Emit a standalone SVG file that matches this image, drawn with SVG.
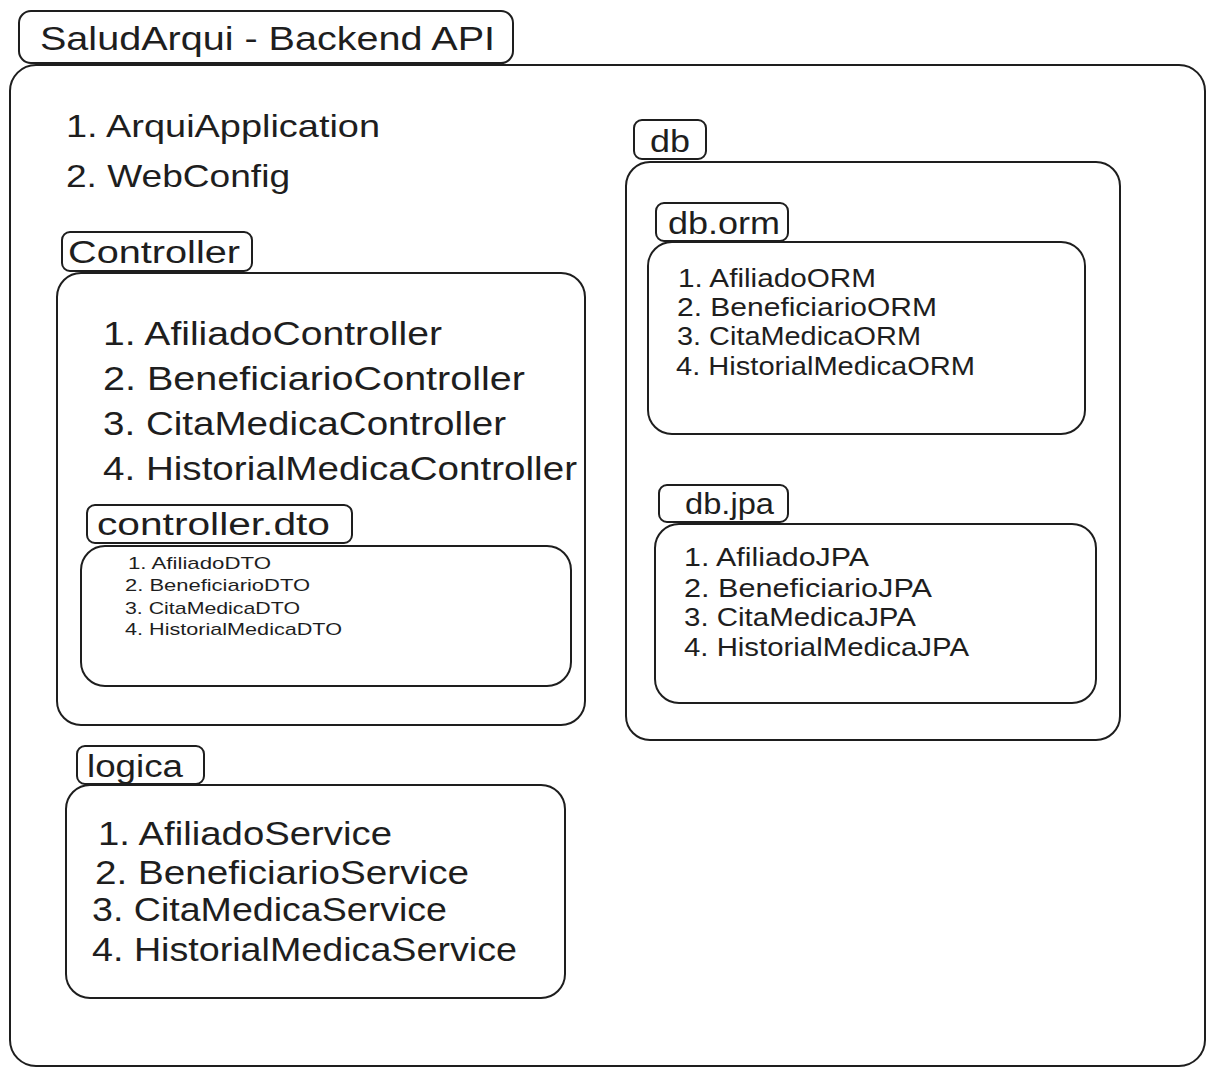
<svg xmlns="http://www.w3.org/2000/svg" width="1215" height="1075" viewBox="0 0 1215 1075">
<style>
.box{fill:none;stroke:#1e1e1e;stroke-width:2;stroke-linejoin:round}
.t{font-family:"Liberation Sans",Arial,sans-serif;fill:#1e1e1e}
</style>
<rect x="0" y="0" width="1215" height="1075" fill="#ffffff"/>
<g id="title">
<rect class="box" x="19" y="11" width="494" height="52" rx="12"/>
<text class="t" x="40" y="50" font-size="34" textLength="455" lengthAdjust="spacingAndGlyphs">SaludArqui - Backend API</text>
</g>
<g id="backend">
<rect class="box" x="10" y="65" width="1195" height="1001" rx="26"/>
<text class="t" x="66" y="137" font-size="32" textLength="314" lengthAdjust="spacingAndGlyphs">1. ArquiApplication</text>
<text class="t" x="66" y="187" font-size="32" textLength="224" lengthAdjust="spacingAndGlyphs">2. WebConfig</text>
</g>
<g id="controller">
<rect class="box" x="62" y="232" width="190" height="39" rx="8"/>
<text class="t" x="68" y="263" font-size="31" textLength="172" lengthAdjust="spacingAndGlyphs">Controller</text>
<rect class="box" x="57" y="273" width="528" height="452" rx="24"/>
<text class="t" x="103" y="345" font-size="33" textLength="339" lengthAdjust="spacingAndGlyphs">1. AfiliadoController</text>
<text class="t" x="103" y="390" font-size="33" textLength="422" lengthAdjust="spacingAndGlyphs">2. BeneficiarioController</text>
<text class="t" x="103" y="435" font-size="33" textLength="403" lengthAdjust="spacingAndGlyphs">3. CitaMedicaController</text>
<text class="t" x="103" y="480" font-size="33" textLength="474" lengthAdjust="spacingAndGlyphs">4. HistorialMedicaController</text>
</g>
<g id="controller-dto">
<rect class="box" x="87" y="505" width="265" height="38" rx="8"/>
<text class="t" x="97" y="535" font-size="31" textLength="233" lengthAdjust="spacingAndGlyphs">controller.dto</text>
<rect class="box" x="81" y="546" width="490" height="140" rx="24"/>
<text class="t" x="128" y="569" font-size="17" textLength="143" lengthAdjust="spacingAndGlyphs">1. AfiliadoDTO</text>
<text class="t" x="125" y="591" font-size="17" textLength="185" lengthAdjust="spacingAndGlyphs">2. BeneficiarioDTO</text>
<text class="t" x="125" y="614" font-size="17" textLength="175" lengthAdjust="spacingAndGlyphs">3. CitaMedicaDTO</text>
<text class="t" x="125" y="635" font-size="17" textLength="217" lengthAdjust="spacingAndGlyphs">4. HistorialMedicaDTO</text>
</g>
<g id="logica">
<rect class="box" x="77" y="746" width="127" height="38" rx="8"/>
<text class="t" x="87" y="777" font-size="31" textLength="96" lengthAdjust="spacingAndGlyphs">logica</text>
<rect class="box" x="66" y="785" width="499" height="213" rx="24"/>
<text class="t" x="98" y="845" font-size="33" textLength="294" lengthAdjust="spacingAndGlyphs">1. AfiliadoService</text>
<text class="t" x="95" y="884" font-size="33" textLength="374" lengthAdjust="spacingAndGlyphs">2. BeneficiarioService</text>
<text class="t" x="92" y="921" font-size="33" textLength="355" lengthAdjust="spacingAndGlyphs">3. CitaMedicaService</text>
<text class="t" x="92" y="961" font-size="33" textLength="425" lengthAdjust="spacingAndGlyphs">4. HistorialMedicaService</text>
</g>
<g id="db">
<rect class="box" x="634" y="120" width="72" height="39" rx="8"/>
<text class="t" x="650" y="152" font-size="31" textLength="40" lengthAdjust="spacingAndGlyphs">db</text>
<rect class="box" x="626" y="162" width="494" height="578" rx="24"/>
</g>
<g id="db-orm">
<rect class="box" x="656" y="203" width="132" height="38" rx="8"/>
<text class="t" x="668" y="234" font-size="31" textLength="112" lengthAdjust="spacingAndGlyphs">db.orm</text>
<rect class="box" x="648" y="242" width="437" height="192" rx="24"/>
<text class="t" x="678" y="287" font-size="25" textLength="198" lengthAdjust="spacingAndGlyphs">1. AfiliadoORM</text>
<text class="t" x="677" y="316" font-size="25" textLength="260" lengthAdjust="spacingAndGlyphs">2. BeneficiarioORM</text>
<text class="t" x="677" y="345" font-size="25" textLength="244" lengthAdjust="spacingAndGlyphs">3. CitaMedicaORM</text>
<text class="t" x="676" y="375" font-size="25" textLength="299" lengthAdjust="spacingAndGlyphs">4. HistorialMedicaORM</text>
</g>
<g id="db-jpa">
<rect class="box" x="659" y="485" width="129" height="37" rx="8"/>
<text class="t" x="685" y="514" font-size="29" textLength="89" lengthAdjust="spacingAndGlyphs">db.jpa</text>
<rect class="box" x="655" y="524" width="441" height="179" rx="24"/>
<text class="t" x="684" y="566" font-size="26" textLength="185" lengthAdjust="spacingAndGlyphs">1. AfiliadoJPA</text>
<text class="t" x="684" y="597" font-size="26" textLength="248" lengthAdjust="spacingAndGlyphs">2. BeneficiarioJPA</text>
<text class="t" x="684" y="626" font-size="26" textLength="232" lengthAdjust="spacingAndGlyphs">3. CitaMedicaJPA</text>
<text class="t" x="684" y="656" font-size="26" textLength="285" lengthAdjust="spacingAndGlyphs">4. HistorialMedicaJPA</text>
</g>
<g id="connectors"></g>
</svg>
